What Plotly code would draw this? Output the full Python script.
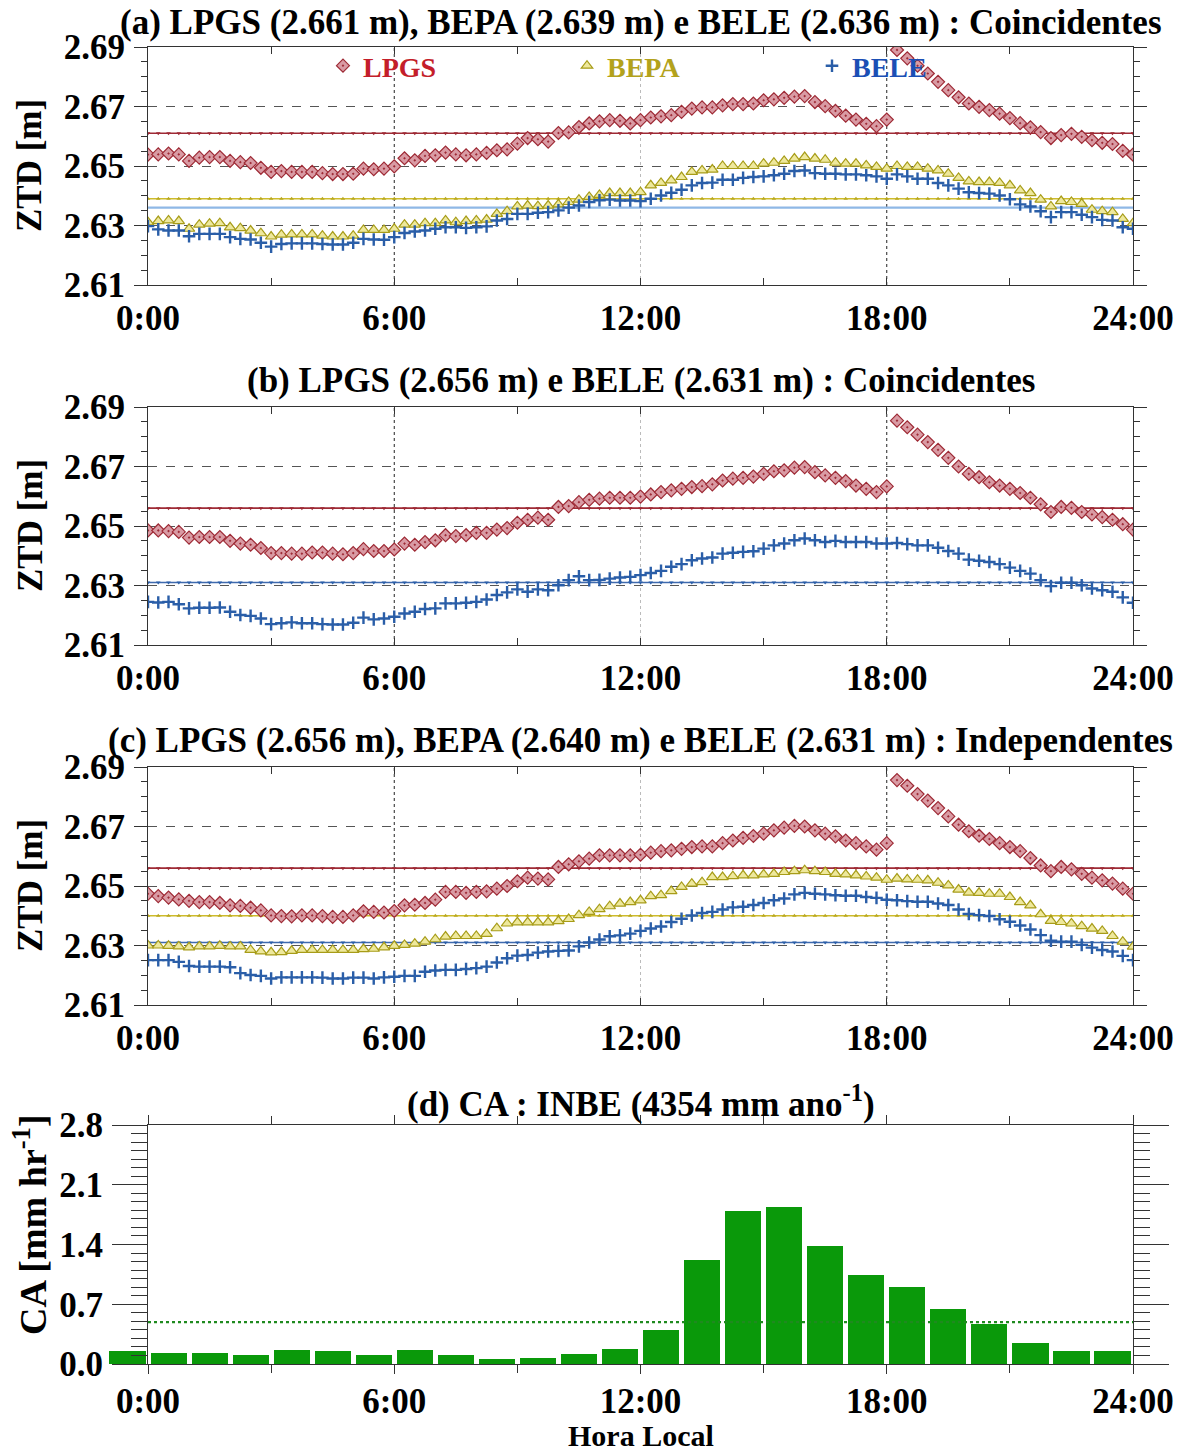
import numpy as np
import plotly.graph_objects as go

W, H = 1189, 1454

# 15-minute sampling of the local-time day (0:00 .. 24:00)
HOURS = np.arange(0, 24.01, 0.25)

# ---------------- (a) coincident period: LPGS, BEPA, BELE ----------------
LPGS_A = [
    2.6538, 2.6539, 2.6542, 2.6539, 2.6517, 2.6528, 2.6530, 2.6530,
    2.6517, 2.6513, 2.6510, 2.6494, 2.6480, 2.6483, 2.6480, 2.6480,
    2.6480, 2.6476, 2.6473, 2.6473, 2.6474, 2.6491, 2.6489, 2.6491,
    2.6499, 2.6526, 2.6519, 2.6534, 2.6536, 2.6545, 2.6539, 2.6536,
    2.6539, 2.6544, 2.6553, 2.6556, 2.6575, 2.6594, 2.6590, 2.6582,
    2.6611, 2.6613, 2.6631, 2.6643, 2.6650, 2.6654, 2.6652, 2.6643,
    2.6654, 2.6663, 2.6667, 2.6671, 2.6682, 2.6693, 2.6697, 2.6697,
    2.6704, 2.6708, 2.6708, 2.6710, 2.6721, 2.6724, 2.6729, 2.6733,
    2.6735, 2.6715, 2.6701, 2.6685, 2.6669, 2.6656, 2.6642, 2.6634,
    2.6656, 2.6890, 2.6862, 2.6837, 2.6811, 2.6783, 2.6755, 2.6731,
    2.6710, 2.6699, 2.6688, 2.6676, 2.6661, 2.6644, 2.6630, 2.6614,
    2.6594, 2.6604, 2.6608, 2.6598, 2.6587, 2.6578, 2.6574, 2.6551,
    2.6538,
]
BEPA_A = [
    2.6311, 2.6315, 2.6317, 2.6315, 2.6289, 2.6303, 2.6306, 2.6308,
    2.6294, 2.6291, 2.6283, 2.6274, 2.6263, 2.6269, 2.6270, 2.6270,
    2.6270, 2.6266, 2.6263, 2.6263, 2.6266, 2.6285, 2.6285, 2.6285,
    2.6289, 2.6303, 2.6303, 2.6308, 2.6308, 2.6317, 2.6311, 2.6315,
    2.6317, 2.6320, 2.6339, 2.6348, 2.6364, 2.6367, 2.6365, 2.6367,
    2.6371, 2.6379, 2.6387, 2.6396, 2.6403, 2.6409, 2.6409, 2.6409,
    2.6412, 2.6435, 2.6443, 2.6452, 2.6463, 2.6480, 2.6485, 2.6488,
    2.6500, 2.6500, 2.6500, 2.6500, 2.6508, 2.6511, 2.6517, 2.6525,
    2.6530, 2.6525, 2.6521, 2.6511, 2.6508, 2.6508, 2.6502, 2.6497,
    2.6491, 2.6500, 2.6497, 2.6497, 2.6491, 2.6485, 2.6474, 2.6460,
    2.6448, 2.6446, 2.6446, 2.6443, 2.6435, 2.6418, 2.6409, 2.6387,
    2.6364, 2.6382, 2.6379, 2.6373, 2.6353, 2.6348, 2.6345, 2.6322,
    2.6308,
]
BELE_A = [
    2.6298, 2.6287, 2.6283, 2.6283, 2.6264, 2.6272, 2.6272, 2.6272,
    2.6261, 2.6255, 2.6253, 2.6242, 2.6229, 2.6238, 2.6240, 2.6240,
    2.6240, 2.6238, 2.6236, 2.6236, 2.6242, 2.6255, 2.6253, 2.6252,
    2.6261, 2.6275, 2.6280, 2.6283, 2.6289, 2.6294, 2.6294, 2.6292,
    2.6294, 2.6297, 2.6317, 2.6322, 2.6339, 2.6339, 2.6343, 2.6345,
    2.6351, 2.6360, 2.6367, 2.6379, 2.6385, 2.6387, 2.6384, 2.6384,
    2.6382, 2.6390, 2.6401, 2.6410, 2.6420, 2.6435, 2.6443, 2.6444,
    2.6454, 2.6454, 2.6460, 2.6463, 2.6465, 2.6469, 2.6474, 2.6483,
    2.6485, 2.6476, 2.6474, 2.6474, 2.6472, 2.6472, 2.6469, 2.6465,
    2.6457, 2.6472, 2.6465, 2.6457, 2.6457, 2.6443, 2.6435, 2.6424,
    2.6412, 2.6409, 2.6407, 2.6401, 2.6388, 2.6371, 2.6364, 2.6348,
    2.6328, 2.6345, 2.6345, 2.6336, 2.6328, 2.6319, 2.6317, 2.6294,
    2.6289,
]
MEAN_LPGS_A, MEAN_BEPA_A, MEAN_BELE_A = 2.661, 2.639, 2.636

# ---------------- (b) coincident period: LPGS, BELE ----------------
LPGS_B = [
    2.6485, 2.6485, 2.6483, 2.6480, 2.6461, 2.6463, 2.6463, 2.6463,
    2.6450, 2.6441, 2.6437, 2.6426, 2.6409, 2.6409, 2.6407, 2.6407,
    2.6411, 2.6411, 2.6407, 2.6405, 2.6409, 2.6422, 2.6416, 2.6416,
    2.6421, 2.6441, 2.6437, 2.6446, 2.6452, 2.6469, 2.6466, 2.6469,
    2.6477, 2.6477, 2.6488, 2.6493, 2.6511, 2.6521, 2.6528, 2.6521,
    2.6564, 2.6567, 2.6580, 2.6588, 2.6592, 2.6595, 2.6595, 2.6595,
    2.6599, 2.6606, 2.6614, 2.6620, 2.6625, 2.6631, 2.6634, 2.6640,
    2.6653, 2.6659, 2.6662, 2.6666, 2.6675, 2.6684, 2.6687, 2.6696,
    2.6698, 2.6681, 2.6670, 2.6662, 2.6651, 2.6636, 2.6625, 2.6614,
    2.6633, 2.6854, 2.6832, 2.6807, 2.6782, 2.6756, 2.6729, 2.6700,
    2.6675, 2.6664, 2.6647, 2.6636, 2.6625, 2.6611, 2.6595, 2.6573,
    2.6547, 2.6564, 2.6561, 2.6547, 2.6539, 2.6530, 2.6521, 2.6506,
    2.6488,
]
BELE_B = [
    2.6245, 2.6243, 2.6245, 2.6237, 2.6223, 2.6225, 2.6225, 2.6226,
    2.6212, 2.6201, 2.6198, 2.6189, 2.6170, 2.6173, 2.6176, 2.6173,
    2.6173, 2.6170, 2.6169, 2.6169, 2.6175, 2.6192, 2.6186, 2.6189,
    2.6195, 2.6206, 2.6212, 2.6221, 2.6223, 2.6240, 2.6240, 2.6242,
    2.6245, 2.6253, 2.6268, 2.6277, 2.6287, 2.6279, 2.6287, 2.6284,
    2.6301, 2.6318, 2.6331, 2.6318, 2.6319, 2.6323, 2.6327, 2.6329,
    2.6335, 2.6342, 2.6349, 2.6363, 2.6372, 2.6385, 2.6391, 2.6394,
    2.6407, 2.6410, 2.6413, 2.6415, 2.6424, 2.6435, 2.6441, 2.6452,
    2.6458, 2.6452, 2.6446, 2.6450, 2.6446, 2.6446, 2.6446, 2.6441,
    2.6441, 2.6443, 2.6439, 2.6435, 2.6435, 2.6427, 2.6416, 2.6407,
    2.6387, 2.6383, 2.6379, 2.6372, 2.6360, 2.6349, 2.6340, 2.6318,
    2.6298, 2.6309, 2.6309, 2.6301, 2.6290, 2.6284, 2.6279, 2.6260,
    2.6242,
]
MEAN_LPGS_B, MEAN_BELE_B = 2.656, 2.631

# ---------------- (c) independent periods: LPGS, BEPA, BELE ----------------
LPGS_C = [
    2.6474, 2.6466, 2.6461, 2.6455, 2.6450, 2.6446, 2.6446, 2.6443,
    2.6435, 2.6433, 2.6427, 2.6418, 2.6401, 2.6399, 2.6398, 2.6401,
    2.6401, 2.6399, 2.6396, 2.6396, 2.6401, 2.6415, 2.6413, 2.6411,
    2.6416, 2.6435, 2.6437, 2.6443, 2.6454, 2.6480, 2.6480, 2.6477,
    2.6480, 2.6482, 2.6491, 2.6500, 2.6516, 2.6528, 2.6525, 2.6522,
    2.6564, 2.6573, 2.6583, 2.6592, 2.6603, 2.6603, 2.6603, 2.6603,
    2.6605, 2.6612, 2.6617, 2.6620, 2.6625, 2.6631, 2.6633, 2.6633,
    2.6644, 2.6653, 2.6662, 2.6668, 2.6676, 2.6687, 2.6696, 2.6702,
    2.6700, 2.6687, 2.6676, 2.6667, 2.6653, 2.6644, 2.6633, 2.6622,
    2.6644, 2.6856, 2.6837, 2.6809, 2.6787, 2.6762, 2.6734, 2.6706,
    2.6684, 2.6669, 2.6658, 2.6644, 2.6631, 2.6617, 2.6594, 2.6569,
    2.6550, 2.6564, 2.6556, 2.6541, 2.6528, 2.6519, 2.6508, 2.6491,
    2.6474,
]
BEPA_C = [
    2.6300, 2.6300, 2.6299, 2.6297, 2.6294, 2.6297, 2.6297, 2.6299,
    2.6297, 2.6297, 2.6285, 2.6280, 2.6277, 2.6278, 2.6282, 2.6285,
    2.6285, 2.6285, 2.6285, 2.6285, 2.6285, 2.6288, 2.6289, 2.6294,
    2.6299, 2.6302, 2.6306, 2.6313, 2.6321, 2.6330, 2.6332, 2.6332,
    2.6332, 2.6339, 2.6358, 2.6374, 2.6378, 2.6378, 2.6378, 2.6378,
    2.6382, 2.6389, 2.6402, 2.6413, 2.6422, 2.6432, 2.6441, 2.6446,
    2.6452, 2.6466, 2.6469, 2.6483, 2.6497, 2.6508, 2.6513, 2.6530,
    2.6530, 2.6533, 2.6536, 2.6536, 2.6539, 2.6541, 2.6547, 2.6550,
    2.6553, 2.6550, 2.6547, 2.6541, 2.6539, 2.6536, 2.6532, 2.6528,
    2.6521, 2.6525, 2.6522, 2.6521, 2.6519, 2.6511, 2.6502, 2.6488,
    2.6478, 2.6477, 2.6474, 2.6474, 2.6463, 2.6446, 2.6435, 2.6405,
    2.6383, 2.6379, 2.6374, 2.6365, 2.6357, 2.6349, 2.6332, 2.6313,
    2.6296,
]
BELE_C = [
    2.6251, 2.6251, 2.6251, 2.6245, 2.6231, 2.6229, 2.6229, 2.6229,
    2.6227, 2.6207, 2.6201, 2.6198, 2.6189, 2.6193, 2.6193, 2.6193,
    2.6193, 2.6192, 2.6189, 2.6189, 2.6192, 2.6192, 2.6189, 2.6193,
    2.6195, 2.6198, 2.6198, 2.6212, 2.6216, 2.6218, 2.6218, 2.6221,
    2.6224, 2.6229, 2.6243, 2.6257, 2.6266, 2.6268, 2.6276, 2.6280,
    2.6282, 2.6283, 2.6297, 2.6310, 2.6320, 2.6331, 2.6334, 2.6340,
    2.6349, 2.6357, 2.6364, 2.6379, 2.6390, 2.6401, 2.6409, 2.6413,
    2.6421, 2.6428, 2.6430, 2.6436, 2.6443, 2.6452, 2.6458, 2.6472,
    2.6477, 2.6474, 2.6472, 2.6469, 2.6467, 2.6467, 2.6463, 2.6460,
    2.6454, 2.6452, 2.6449, 2.6447, 2.6447, 2.6441, 2.6436, 2.6421,
    2.6406, 2.6402, 2.6399, 2.6388, 2.6380, 2.6367, 2.6354, 2.6335,
    2.6316, 2.6313, 2.6313, 2.6302, 2.6293, 2.6285, 2.6280, 2.6265,
    2.6251,
]
MEAN_LPGS_C, MEAN_BEPA_C, MEAN_BELE_C = 2.656, 2.640, 2.631

# ---------------- (d) hourly rain rate at INBE ----------------
CA_HOUR = list(range(-1, 24))  # start hour of each 1-h bin
CA_RATE = [
    0.15, 0.13, 0.13, 0.10, 0.16, 0.15, 0.10, 0.16, 0.11, 0.055,
    0.075, 0.12, 0.18, 0.40, 1.22, 1.79, 1.84, 1.38, 1.04, 0.90,
    0.64, 0.47, 0.245, 0.148, 0.156,
]
CA_MEAN = 0.49

ZTD_TICKS = [2.61, 2.63, 2.65, 2.67, 2.69]
ZTD_TICKTEXT = ["2.61", "2.63", "2.65", "2.67", "2.69"]
CA_TICKS = [0.0, 0.7, 1.4, 2.1, 2.8]
CA_TICKTEXT = ["0.0", "0.7", "1.4", "2.1", "2.8"]
HOUR_LABELS = {"0": "0:00", "6": "6:00", "12": "12:00", "18": "18:00", "24": "24:00"}

TITLES = [
    "(a) LPGS (2.661 m), BEPA (2.639 m) e BELE (2.636 m) : Coincidentes",
    "(b) LPGS (2.656 m) e BELE (2.631 m) : Coincidentes",
    "(c) LPGS (2.656 m), BEPA (2.640 m) e BELE (2.631 m) : Independentes",
    "(d) CA : INBE (4354 mm ano<sup>-1</sup>)",
]

# ---------------- styling ----------------
SERIF = "Liberation Serif"
C_LPGS, C_LPGS_FILL, C_LPGS_TXT = "#9e2a35", "#d99ba4", "#c41e2a"
C_BEPA, C_BEPA_FILL, C_BEPA_TXT = "#a79c18", "#eee89c", "#b3a21c"
C_BELE, C_BELE_TXT = "#2a5ea8", "#1b4fb5"
C_BELE_LINE = "#8fb8e6"
C_GREEN = "#0a990a"
AX = "#333333"

TXT = 35
TICKFONT = dict(family=SERIF, size=TXT, color="black", weight="bold")


def fx(p):
    return p / W


def fy(p):
    return (H - p) / H


PLOT_L, PLOT_R = 148, 1133
ROWS = [(47, 285), (407, 645), (767, 1005), (1125, 1364)]
TITLE_Y = [22, 381, 741, 1101]

fig = go.Figure()

LPGS_MARK = dict(symbol="diamond-dot", size=10, color=C_LPGS_FILL,
                 line=dict(color=C_LPGS, width=1.2))
BEPA_MARK = dict(symbol="triangle-up", size=10, color=C_BEPA_FILL,
                 line=dict(color=C_BEPA, width=1.2))
BELE_MARK = dict(symbol="cross-thin", size=9, color=C_BELE,
                 line=dict(color=C_BELE, width=2.4))


def mean_line(value, color, axes, marker_symbol, marker_color, width=1.6):
    xa, ya = axes
    fig.add_trace(go.Scatter(
        x=HOURS, y=[value] * len(HOURS), mode="lines+markers",
        line=dict(color=color, width=width),
        marker=dict(symbol=marker_symbol, size=4, color=marker_color),
        xaxis=xa, yaxis=ya, showlegend=False, hoverinfo="skip"))


def series(values, name, marker, axes, legend=None):
    xa, ya = axes
    fig.add_trace(go.Scatter(
        x=HOURS, y=values, mode="markers", name=name, marker=marker,
        xaxis=xa, yaxis=ya, showlegend=legend is not None,
        legend=legend or "legend"))


# (a)
ax_a = ("x", "y")
mean_line(MEAN_LPGS_A, C_LPGS, ax_a, "triangle-down", C_LPGS)
mean_line(MEAN_BEPA_A, "#cdbb2c", ax_a, "triangle-up", "#b9a820")
mean_line(MEAN_BELE_A, C_BELE_LINE, ax_a, "x-thin", C_BELE, width=2.2)
series(LPGS_A, "LPGS", LPGS_MARK, ax_a, "legend")
series(BEPA_A, "BEPA", BEPA_MARK, ax_a, "legend2")
series(BELE_A, "BELE", BELE_MARK, ax_a, "legend3")

# (b)
ax_b = ("x2", "y2")
mean_line(MEAN_LPGS_B, C_LPGS, ax_b, "triangle-down", C_LPGS)
mean_line(MEAN_BELE_B, "#3f6aae", ax_b, "triangle-down", C_BELE)
series(LPGS_B, "LPGS", LPGS_MARK, ax_b)
series(BELE_B, "BELE", BELE_MARK, ax_b)

# (c)
ax_c = ("x3", "y3")
mean_line(MEAN_LPGS_C, C_LPGS, ax_c, "triangle-down", C_LPGS)
mean_line(MEAN_BEPA_C, "#cdbb2c", ax_c, "triangle-up", "#b9a820")
mean_line(MEAN_BELE_C, "#3f6aae", ax_c, "triangle-down", C_BELE)
series(LPGS_C, "LPGS", LPGS_MARK, ax_c)
series(BEPA_C, "BEPA", BEPA_MARK, ax_c)
series(BELE_C, "BELE", BELE_MARK, ax_c)

# (d) hourly bars on a hidden axis that starts one hour early,
# so the wrap-around bin before 0:00 stays visible
fig.add_trace(go.Bar(
    x=CA_HOUR, y=CA_RATE, offset=0.06, width=0.88,
    marker=dict(color=C_GREEN, line=dict(width=0)),
    xaxis="x4", yaxis="y4", showlegend=False, hoverinfo="skip"))
fig.add_trace(go.Scatter(
    x=[0, 24], y=[CA_MEAN, CA_MEAN], mode="lines",
    line=dict(color="#1f8a1f", width=2.2, dash="dot"),
    xaxis="x5", yaxis="y4", showlegend=False, hoverinfo="skip"))

# ---------------- axes ----------------
layout = dict(
    template="none",
    width=W, height=H, margin=dict(l=0, r=0, t=0, b=0, pad=0),
    paper_bgcolor="white", plot_bgcolor="rgba(0,0,0,0)",
    font=dict(family=SERIF, color="black"),
    bargap=0, showlegend=True,
)

for i, (top, bot) in enumerate(ROWS[:3]):
    sfx = "" if i == 0 else str(i + 1)
    layout["xaxis" + sfx] = dict(
        domain=[fx(PLOT_L), fx(PLOT_R)], range=[0, 24], anchor="y" + sfx,
        tickmode="linear", tick0=0, dtick=6, labelalias=HOUR_LABELS,
        ticks="inside", ticklen=7, tickcolor=AX, tickwidth=1,
        minor=dict(tickmode="linear", tick0=0, dtick=3, ticks="inside",
                   ticklen=7, tickcolor=AX),
        showline=True, linecolor=AX, linewidth=1, mirror="ticks",
        showgrid=False, zeroline=False, tickfont=TICKFONT,
        ticklabelstandoff=2, automargin=False)
    layout["yaxis" + sfx] = dict(
        domain=[fy(bot), fy(top)], range=[2.61, 2.69], anchor="x" + sfx,
        tickmode="array", tickvals=ZTD_TICKS, ticktext=ZTD_TICKTEXT,
        ticks="outside", ticklen=13, tickcolor=AX,
        minor=dict(tickmode="linear", tick0=2.61, dtick=0.005,
                   ticks="outside", ticklen=6, tickcolor=AX),
        showline=True, linecolor=AX, linewidth=1, mirror="ticks",
        showgrid=True, gridcolor="#555555", griddash="dash", gridwidth=1,
        zeroline=False, tickfont=TICKFONT, ticklabelstandoff=2,
        automargin=False)

top_d, bot_d = ROWS[3]
hour_px = (PLOT_R - PLOT_L) / 24.0
layout["xaxis4"] = dict(
    domain=[fx(PLOT_L - hour_px), fx(PLOT_R)], range=[-1, 24], anchor="y4",
    visible=False, showgrid=False, zeroline=False, automargin=False)
layout["xaxis5"] = dict(
    domain=[fx(PLOT_L), fx(PLOT_R)], range=[0, 24], anchor="y4",
    tickmode="linear", tick0=0, dtick=6, labelalias=HOUR_LABELS,
    ticks="outside", ticklen=9, tickcolor=AX,
    minor=dict(tickmode="linear", tick0=0, dtick=3, ticks="outside",
               ticklen=8, tickcolor=AX),
    showline=True, linecolor=AX, linewidth=1, mirror="ticks",
    showgrid=False, zeroline=False, tickfont=TICKFONT, ticklabelstandoff=-3,
    automargin=False)
layout["yaxis4"] = dict(
    domain=[fy(bot_d), fy(top_d)], range=[0, 2.8], anchor="x5",
    tickmode="array", tickvals=CA_TICKS, ticktext=CA_TICKTEXT,
    ticks="outside", ticklen=35, tickcolor=AX,
    minor=dict(tickmode="linear", tick0=0, dtick=0.1, ticks="outside",
               ticklen=16, tickcolor=AX),
    showline=True, linecolor=AX, linewidth=1, mirror="ticks",
    showgrid=False, zeroline=False, tickfont=TICKFONT, ticklabelstandoff=2,
    automargin=False)

# legends in panel (a): one per station, coloured like its markers
LEG_FONT = dict(family=SERIF, size=28, weight="bold")
for key, sym_x, col in (("legend", 343, C_LPGS_TXT),
                        ("legend2", 587, C_BEPA_TXT),
                        ("legend3", 832, C_BELE_TXT)):
    layout[key] = dict(
        x=fx(sym_x - 20), y=fy(66), xanchor="left", yanchor="middle",
        bgcolor="rgba(0,0,0,0)", borderwidth=0,
        font=dict(LEG_FONT, color=col), itemwidth=30)

# reference lines at 6h / 12h / 18h
shapes = []
for i in range(3):
    sfx = "" if i == 0 else str(i + 1)
    for hx, col in ((6, "#222222"), (12, "#bbbbbb"), (18, "#222222")):
        shapes.append(dict(
            type="line", xref="x" + sfx, yref="y" + sfx + " domain",
            x0=hx, x1=hx, y0=0, y1=1, layer="below",
            line=dict(color=col, width=1, dash="dot")))
layout["shapes"] = shapes

BOLD = dict(family=SERIF, size=TXT, color="black", weight="bold")

# titles and axis labels
ann = []
for t, ty in zip(TITLES, TITLE_Y):
    ann.append(dict(
        text=t, x=fx((PLOT_L + PLOT_R) / 2), y=fy(ty), xref="paper",
        yref="paper", xanchor="center", yanchor="middle", showarrow=False,
        font=BOLD))
for top, bot in ROWS[:3]:
    ann.append(dict(
        text="ZTD [m]", x=fx(30), y=fy((top + bot) / 2), xref="paper",
        yref="paper", xanchor="center", yanchor="middle", textangle=-90,
        showarrow=False, font=BOLD))
ann.append(dict(
    text="CA [mm hr<sup>-1</sup>]", x=fx(30), y=fy(1225), xref="paper",
    yref="paper", xanchor="center", yanchor="middle", textangle=-90,
    showarrow=False, font=dict(BOLD, size=38)))
ann.append(dict(
    text="Hora Local", x=fx((PLOT_L + PLOT_R) / 2), y=0, xref="paper",
    yref="paper", xanchor="center", yanchor="bottom", showarrow=False,
    font=dict(BOLD, size=30)))
layout["annotations"] = ann

fig.update_layout(**layout)
fig.write_html("out.html")
